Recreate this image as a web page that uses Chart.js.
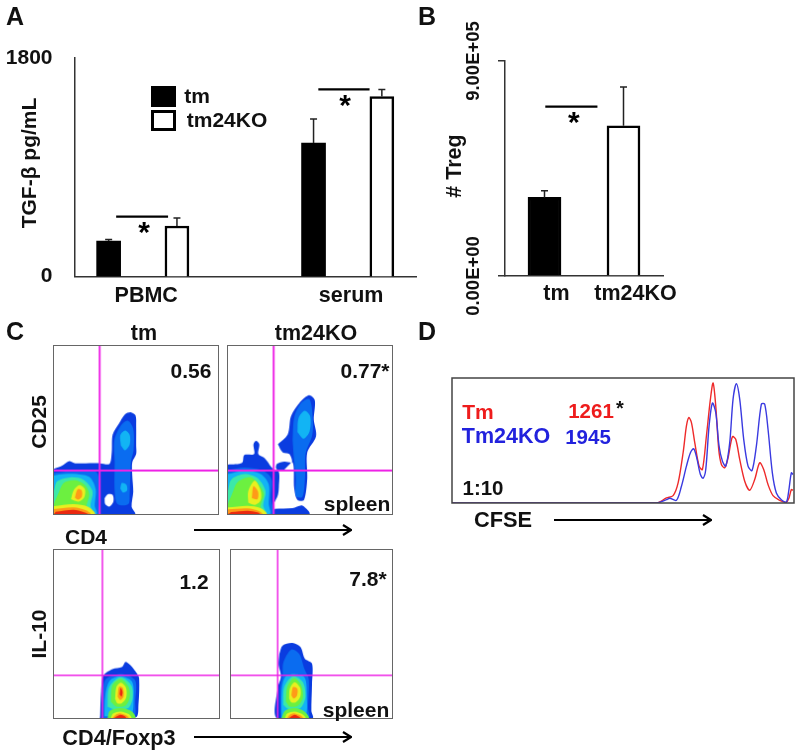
<!DOCTYPE html>
<html>
<head>
<meta charset="utf-8">
<title>TGF-beta and Treg panels</title>
<script src="https://cdn.jsdelivr.net/npm/chart.js@4"></script>
<style>
  body { margin: 0; background: #fff; font-family: "Liberation Sans", Arial, sans-serif; font-weight: bold; color: #111; }
  #page { position: relative; width: 800px; height: 754px; overflow: hidden; }
  canvas { position: absolute; }
  .note { position: absolute; white-space: nowrap; transform: translate(-50%, -50%); line-height: 1; }
  .flow { border: 1.5px solid #666; }
  .swatch { position: absolute; box-sizing: border-box; background: #000; border: 3px solid #000; }
  svg { position: absolute; left: 0; top: 0; }
</style>
</head>
<body>
<div id="page">
  <canvas id="chart-a"></canvas>
  <canvas id="chart-b"></canvas>
  <canvas id="flow-1" class="flow"></canvas>
  <canvas id="flow-2" class="flow"></canvas>
  <canvas id="flow-3" class="flow"></canvas>
  <canvas id="flow-4" class="flow"></canvas>
  <canvas id="chart-d"></canvas>
  <div class="swatch" style="left:151px;top:86px;width:25px;height:21px"></div>
  <div class="swatch" style="left:151px;top:110px;width:25px;height:21px;background:#fff"></div>
  <svg width="800" height="754">
    <defs><marker id="head" markerUnits="userSpaceOnUse" markerWidth="12" markerHeight="14" refX="11" refY="7" orient="auto">
      <path d="M3 2 L11 7 L3 12" fill="none" stroke="#000" stroke-width="2.2"/></marker></defs>
    <line x1="194" y1="530" x2="351" y2="530" stroke="#000" stroke-width="2.2" marker-end="url(#head)"/>
    <line x1="194" y1="737" x2="351" y2="737" stroke="#000" stroke-width="2.2" marker-end="url(#head)"/>
    <line x1="554" y1="520" x2="711" y2="520" stroke="#000" stroke-width="2.2" marker-end="url(#head)"/>
  </svg>
</div>
<script>
// Panel A
const groupNames = ['PBMC', 'serum'];
const groupTicks = [0.55, 3.55];
const tmSlots = [0, 3];
const koSlots = [1, 4];
const tmTgf = [292, 1100];
const koTgf = [416, 1483];
const tmTgfErr = [305, 1297];
const koTgfErr = [482, 1540];
const tgfBrackets = [[0.11, 0.87, 494], [3.07, 3.82, 1541]];
const tgfStars = [[0.52, 391], [3.46, 1438]];

// Panel B
const tregNames = ['tm', 'tm24KO'];
const tregValues = [329000, 629000];
const tregErr = [357000, 791000];
const tregBrackets = [[0.01, 0.67, 709000]];
const tregStars = [[0.37, 659000]];

// Panel C, contour outlines, colour index then points
const levelColors = ['#0a3ce0', '#0a6cf0', '#12b4f4', '#3ce8a8', '#6cf040', '#e8f020', '#ff9a18', '#ea2810', '#ffffff'];

const cd25Tm = [
  [0, [[0,138],[25,148],[45,161],[65,155],[140,155],[170,153],[177,188],[180,243],[200,278],[218,305],[235,311],[250,301],[252,268],[252,208],[252,183],[240,158],[240,118],[243,68],[238,23],[248,0],[0,0],[0,138]]],
  [1, [[186,160],[185,225],[205,270],[226,285],[243,260],[244,195],[236,160],[232,60],[228,30],[195,30],[186,70],[186,160]]],
  [2, [[205,210],[203,240],[218,255],[232,242],[232,212],[218,195],[205,210]]],
  [2, [[203,78],[208,95],[222,90],[224,72],[212,66],[203,78]]],
  [8, [[155,48],[165,60],[180,58],[182,38],[170,23],[157,30],[155,48]]],
  [1, [[0,126],[70,132],[130,128],[138,88],[136,28],[140,0],[0,0],[0,126]]],
  [2, [[0,118],[30,122],[70,122],[110,112],[128,75],[125,25],[130,0],[0,0],[0,118]]],
  [3, [[0,70],[10,100],[50,112],[90,105],[118,70],[112,25],[120,0],[0,0],[0,70]]],
  [4, [[12,60],[30,95],[65,103],[95,88],[108,60],[100,25],[105,0],[0,0],[0,30],[12,60]]],
  [5, [[52,45],[60,72],[78,88],[95,75],[92,50],[75,38],[52,45]]],
  [6, [[64,50],[72,75],[85,72],[85,52],[74,44],[64,50]]],
  [5, [[0,24],[60,30],[105,22],[125,0],[0,0],[0,24]]],
  [6, [[0,15],[60,20],[98,11],[112,0],[0,0],[0,15]]],
  [7, [[5,7],[60,13],[90,6],[104,0],[0,0],[5,7]]]
];
const cd25Ko = [
  [0, [[0,151],[43,156],[50,180],[80,183],[78,213],[86,223],[96,213],[93,183],[113,170],[133,143],[140,136],[156,128],[156,83],[153,58],[140,28],[140,0],[0,0],[0,151]]],
  [0, [[153,213],[183,243],[193,298],[218,338],[248,363],[266,348],[263,288],[270,238],[243,188],[243,108],[233,43],[213,43],[203,78],[198,158],[168,133],[148,138],[150,153],[173,160],[196,158],[188,183],[168,188],[153,213]]],
  [0, [[143,16],[198,18],[228,26],[250,0],[143,0],[143,16]]],
  [1, [[198,225],[203,295],[225,340],[250,350],[260,290],[258,240],[238,185],[236,110],[228,52],[208,55],[208,110],[202,170],[198,225]]],
  [2, [[213,250],[216,292],[235,315],[252,298],[250,252],[232,230],[213,250]]],
  [1, [[0,135],[50,142],[100,135],[125,120],[135,100],[132,50],[135,0],[0,0],[0,135]]],
  [2, [[0,122],[50,132],[100,122],[125,90],[125,30],[128,0],[0,0],[0,122]]],
  [3, [[0,70],[10,105],[50,122],[90,110],[115,70],[108,25],[118,0],[0,0],[0,70]]],
  [4, [[12,60],[30,98],[70,112],[95,90],[110,60],[100,25],[105,0],[0,0],[0,30],[12,60]]],
  [5, [[62,35],[62,70],[82,102],[100,72],[100,42],[83,28],[62,35]]],
  [6, [[73,48],[78,85],[92,68],[90,45],[73,48]]],
  [5, [[0,20],[60,25],[100,18],[118,0],[0,0],[0,20]]],
  [6, [[0,14],[60,17],[95,9],[105,0],[0,0],[0,14]]],
  [7, [[10,6],[60,10],[90,5],[98,0],[0,0],[10,6]]]
];
const il10Tm = [
  [0, [[142,7],[145,82],[152,130],[180,150],[210,157],[220,172],[235,162],[255,137],[262,122],[260,42],[252,2],[142,0],[142,7]]],
  [1, [[150,0],[150,80],[160,120],[210,135],[250,115],[250,50],[245,0],[150,0]]],
  [2, [[155,5],[158,70],[172,115],[205,128],[240,112],[245,60],[235,5],[155,5]]],
  [3, [[165,35],[170,95],[205,125],[238,100],[242,60],[228,30],[190,25],[165,35]]],
  [4, [[175,50],[180,100],[205,120],[230,95],[233,62],[220,38],[192,35],[175,50]]],
  [5, [[188,58],[192,95],[206,108],[222,92],[222,62],[208,45],[195,45],[188,58]]],
  [6, [[196,65],[200,95],[212,92],[214,65],[204,55],[196,65]]],
  [7, [[202,72],[205,92],[211,80],[208,66],[202,72]]],
  [4, [[165,0],[172,22],[205,30],[240,20],[250,0],[165,0]]],
  [5, [[175,0],[182,14],[205,20],[230,12],[238,0],[175,0]]],
  [6, [[180,0],[190,10],[205,14],[222,8],[230,0],[180,0]]],
  [7, [[185,0],[195,6],[205,10],[218,5],[222,0],[185,0]]]
];
const il10Ko = [
  [0, [[148,197],[158,222],[188,230],[213,217],[226,182],[248,167],[248,102],[246,22],[250,0],[140,0],[143,92],[153,127],[146,162],[148,197]]],
  [1, [[152,0],[150,90],[158,130],[160,170],[185,210],[210,195],[225,150],[238,120],[236,30],[238,0],[152,0]]],
  [2, [[155,0],[155,80],[165,125],[190,135],[225,125],[232,70],[225,0],[155,0]]],
  [3, [[160,40],[163,95],[190,128],[220,110],[228,65],[212,30],[175,28],[160,40]]],
  [4, [[168,50],[172,95],[193,122],[215,100],[220,62],[205,38],[180,35],[168,50]]],
  [5, [[178,60],[180,90],[195,110],[212,92],[212,65],[198,48],[185,48],[178,60]]],
  [6, [[185,70],[190,95],[203,90],[202,68],[192,60],[185,70]]],
  [4, [[155,0],[165,22],[195,30],[225,20],[238,0],[155,0]]],
  [5, [[165,0],[172,14],[195,20],[218,12],[228,0],[165,0]]],
  [6, [[172,0],[180,10],[195,14],[212,8],[220,0],[172,0]]],
  [7, [[178,0],[186,6],[195,10],[206,5],[212,0],[178,0]]]
];

// Panel D
const tmChannel = [0,614,644,664,679,694,704,711,719,729,742,752,764,776,784,792,801,809,819,829,842,852,864,879,894,909,924,936,949,964,984,1004,1012,1019,1024];
const tmCounts = [0,0,15,22,60,150,230,255,240,180,110,100,200,310,358,290,160,115,105,135,198,190,130,65,38,70,120,100,55,22,8,2,15,40,38];
const koChannel = [0,614,644,654,674,689,704,716,726,736,746,754,762,772,782,792,802,812,822,834,844,854,864,876,889,901,914,929,939,949,962,974,989,1004,1011,1019,1024];
const koCounts = [0,0,10,14,8,50,110,150,162,130,85,74,100,230,298,270,170,125,110,180,310,356,310,190,110,97,170,295,295,220,90,30,10,3,35,90,85];

// texto libre: text, x, y, size, colour, rotated
const notes = [
  ['A', 15, 16, 25], ['B', 427, 16, 25], ['C', 15, 331, 25], ['D', 427, 331, 25],
  ['TGF-β pg/mL', 28, 163, 21, '#111', true],
  ['tm', 197, 95, 21], ['tm24KO', 227, 119, 21],
  ['# Treg', 455, 166, 21.5, '#111', true],
  ['tm', 144, 334, 21.5], ['tm24KO', 316, 334, 21.5],
  ['CD25', 38, 422, 21, '#111', true], ['IL-10', 38, 634, 21, '#111', true],
  ['0.56', 191, 370, 21], ['0.77*', 365, 370, 21], ['spleen', 357, 503, 21],
  ['1.2', 194, 581, 21], ['7.8*', 368, 578, 21], ['spleen', 356, 709, 21],
  ['CD4', 86, 536, 21], ['CD4/Foxp3', 119, 738, 21.7],
  ['Tm', 478, 411, 21, '#ee1c1c'], ['1261', 591, 411, 20.5, '#ee1c1c'], ['*', 620, 408, 20],
  ['Tm24KO', 506, 437, 21.5, '#2222dd'], ['1945', 588, 437, 20.5, '#2222dd'],
  ['1:10', 483, 488, 20.5], ['CFSE', 503, 520, 21.8]
];

const page = document.getElementById('page');
notes.forEach(function (n) {
  const d = document.createElement('div');
  d.className = 'note';
  d.textContent = n[0];
  d.style.left = n[1] + 'px';
  d.style.top = n[2] + 'px';
  d.style.fontSize = n[3] + 'px';
  if (n[4]) d.style.color = n[4];
  if (n[5]) d.style.transform = 'translate(-50%, -50%) rotate(-90deg)';
  page.appendChild(d);
});

function place(id, x, y, w, h) {
  const c = document.getElementById(id);
  c.width = w;
  c.height = h;
  c.style.left = x + 'px';
  c.style.top = y + 'px';
  c.style.width = w + 'px';
  c.style.height = h + 'px';
  return c;
}

Chart.defaults.font.family = '"Liberation Sans", Arial, sans-serif';
Chart.defaults.font.weight = 'bold';
Chart.defaults.color = '#111';
Chart.defaults.animation = false;
Chart.defaults.responsive = false;
Chart.defaults.plugins.legend.display = false;
Chart.defaults.plugins.tooltip.enabled = false;

// whiskers, significance bars and stars on top of the bars
function barExtras(whiskers, brackets, stars) {
  return {
    id: 'barExtras',
    afterDatasetsDraw(chart) {
      const ctx = chart.ctx, xs = chart.scales.x, ys = chart.scales.y;
      ctx.save();
      ctx.strokeStyle = '#222';
      ctx.lineWidth = 1.5;
      whiskers.forEach(function (w) {
        w.slots.forEach(function (slot, i) {
          const x = xs.getPixelForValue(slot);
          const y0 = ys.getPixelForValue(w.tops[i]);
          const y1 = ys.getPixelForValue(w.errs[i]);
          ctx.beginPath();
          ctx.moveTo(x, y0); ctx.lineTo(x, y1);
          ctx.moveTo(x - 3.5, y1); ctx.lineTo(x + 3.5, y1);
          ctx.stroke();
        });
      });
      ctx.strokeStyle = '#000';
      ctx.lineWidth = 2.2;
      brackets.forEach(function (b) {
        ctx.beginPath();
        ctx.moveTo(xs.getPixelForValue(b[0]), ys.getPixelForValue(b[2]));
        ctx.lineTo(xs.getPixelForValue(b[1]), ys.getPixelForValue(b[2]));
        ctx.stroke();
      });
      ctx.fillStyle = '#000';
      ctx.font = 'bold 30px "Liberation Sans"';
      ctx.textAlign = 'center';
      ctx.textBaseline = 'alphabetic';
      stars.forEach(function (s) {
        ctx.fillText('*', xs.getPixelForValue(s[0]), ys.getPixelForValue(s[1]) + 13);
      });
      ctx.restore();
    }
  };
}

const toXY = (xs, ys) => xs.map((x, i) => ({ x: x, y: ys[i] }));

new Chart(place('chart-a', 0, 40, 420, 270), {
  type: 'bar',
  data: {
    datasets: [
      { label: 'tm', data: toXY(tmSlots, tmTgf), backgroundColor: '#000', barThickness: 24, grouped: false },
      { label: 'tm24KO', data: toXY(koSlots, koTgf), backgroundColor: '#fff', borderColor: '#000', borderWidth: 2.5, barThickness: 24, grouped: false }
    ]
  },
  options: {
    layout: { padding: { top: 18, right: 4 } },
    scales: {
      x: {
        type: 'linear', min: -0.5, max: 4.5, offset: false,
        afterBuildTicks(s) { s.ticks = groupTicks.map(v => ({ value: v })); },
        afterFit(s) { s.height = 33.5; },
        grid: { display: false },
        border: { color: '#333', width: 1.5 },
        ticks: {
          padding: -1, maxRotation: 0, autoSkip: false, font: { size: 21.5 },
          callback: (v) => groupNames[groupTicks.indexOf(v)]
        }
      },
      y: {
        min: 0, max: 1800,
        afterFit(s) { s.width = 74.5; s.paddingTop = 0; s.paddingBottom = 0; },
        grid: { display: false },
        border: { color: '#333', width: 1.5 },
        ticks: { stepSize: 1800, padding: 14, font: { size: 21 }, callback: (v) => String(v) }
      }
    }
  },
  plugins: [barExtras(
    [{ slots: tmSlots, tops: tmTgf, errs: tmTgfErr }, { slots: koSlots, tops: koTgf, errs: koTgfErr }],
    tgfBrackets, tgfStars)]
});

new Chart(place('chart-b', 420, 0, 290, 320), {
  type: 'bar',
  data: {
    labels: tregNames,
    datasets: [{
      data: tregValues,
      backgroundColor: ['#000', '#fff'],
      borderColor: '#000',
      borderWidth: 2.5,
      barThickness: 33
    }]
  },
  options: {
    layout: { padding: { top: 61, right: 47 } },
    scales: {
      x: {
        afterFit(s) { s.height = 44; },
        grid: { display: false },
        border: { color: '#333', width: 1.5 },
        ticks: { padding: -3, labelOffset: 12, maxRotation: 0, autoSkip: false, font: { size: 21.5 } }
      },
      y: {
        min: 0, max: 900000,
        afterFit(s) { s.width = 85; },
        grid: { drawOnChartArea: false, color: '#333', tickLength: 7, lineWidth: 1.5 },
        border: { color: '#333', width: 1.5 },
        ticks: {
          stepSize: 900000, minRotation: 90, maxRotation: 90, crossAlign: 'center', padding: -16,
          font: { size: 18.5 },
          callback: (v) => v.toExponential(2).replace('e+', 'E+').replace(/E\+(\d)$/, 'E+0$1')
        }
      }
    }
  },
  plugins: [barExtras([{ slots: [0, 1], tops: tregValues, errs: tregErr }], tregBrackets, tregStars)]
});

function flowPlot(id, x, y, w, h, xMax, yMax, gateX, gateY, gateWidth, contours) {
  const layers = contours.slice().reverse().map(function (c) {
    return {
      data: c[1].map(p => ({ x: p[0], y: p[1] })),
      showLine: true, fill: 'shape', tension: 0.3, borderWidth: 0, pointRadius: 0,
      backgroundColor: levelColors[c[0]]
    };
  });
  const gates = [[[gateX, 0], [gateX, yMax]], [[0, gateY], [xMax, gateY]]].map(function (g) {
    return {
      data: g.map(p => ({ x: p[0], y: p[1] })),
      showLine: true, borderColor: '#ee22e6', borderWidth: gateWidth, pointRadius: 0
    };
  });
  new Chart(place(id, x, y, w, h), {
    type: 'scatter',
    data: { datasets: gates.concat(layers) },
    options: {
      scales: {
        x: { display: false, min: 0, max: xMax },
        y: { display: false, min: 0, max: yMax }
      }
    }
  });
}

flowPlot('flow-1', 53, 345, 166, 170, 503, 513, 140, 133, 2, cd25Tm);
flowPlot('flow-2', 227, 345, 166, 170, 503, 513, 140, 133, 2, cd25Ko);
flowPlot('flow-3', 53, 549, 167, 170, 508, 515, 149, 131, 1.5, il10Tm);
flowPlot('flow-4', 230, 549, 163, 170, 493, 515, 143, 131, 1.5, il10Ko);

new Chart(place('chart-d', 440, 370, 360, 140), {
  type: 'scatter',
  data: {
    datasets: [
      { label: 'Tm24KO', data: toXY(koChannel, koCounts), showLine: true, borderColor: '#3a3ae0', borderWidth: 1.4, pointRadius: 0, tension: 0.3 },
      { label: 'Tm', data: toXY(tmChannel, tmCounts), showLine: true, borderColor: '#ee2a2a', borderWidth: 1.4, pointRadius: 0, tension: 0.3 }
    ]
  },
  options: {
    layout: { padding: { left: 12, top: 8, right: 6, bottom: 7 } },
    scales: {
      x: { display: false, min: 0, max: 1027 },
      y: { display: false, min: 0, max: 373 }
    }
  },
  plugins: [{
    id: 'frame',
    afterDraw(chart) {
      const a = chart.chartArea, ctx = chart.ctx;
      ctx.save();
      ctx.strokeStyle = '#444';
      ctx.lineWidth = 1.5;
      ctx.strokeRect(a.left, a.top, a.width, a.height);
      ctx.restore();
    }
  }]
});
</script>
</body>
</html>
